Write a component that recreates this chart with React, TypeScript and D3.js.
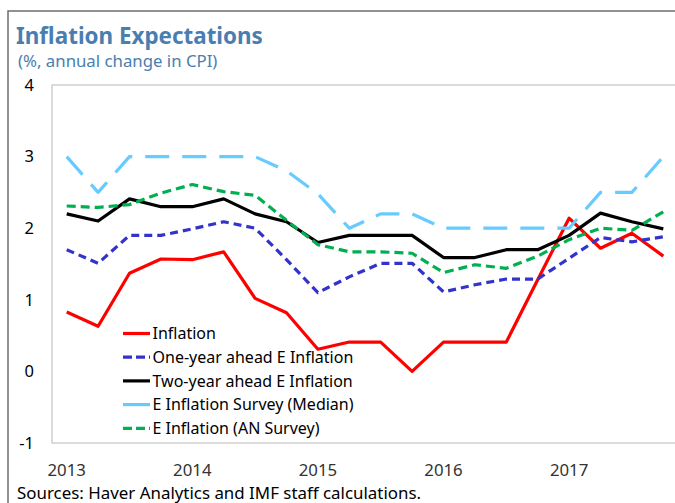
import { scaleLinear, line } from 'd3'

// Quarterly series, 2013Q1 – 2017Q4
const quarters = [
  '2013Q1', '2013Q2', '2013Q3', '2013Q4',
  '2014Q1', '2014Q2', '2014Q3', '2014Q4',
  '2015Q1', '2015Q2', '2015Q3', '2015Q4',
  '2016Q1', '2016Q2', '2016Q3', '2016Q4',
  '2017Q1', '2017Q2', '2017Q3', '2017Q4',
]
const inflation = [0.83, 0.63, 1.37, 1.57, 1.56, 1.67, 1.02, 0.82, 0.31, 0.41, 0.41, 0.0, 0.41, 0.41, 0.41, 1.28, 2.14, 1.72, 1.93, 1.61]
const oneYear = [1.7, 1.51, 1.9, 1.9, 1.99, 2.09, 2.0, 1.56, 1.1, 1.32, 1.51, 1.51, 1.11, 1.21, 1.29, 1.29, 1.58, 1.87, 1.81, 1.88]
const twoYear = [2.2, 2.1, 2.41, 2.3, 2.3, 2.41, 2.2, 2.09, 1.8, 1.9, 1.9, 1.9, 1.59, 1.59, 1.7, 1.7, 1.9, 2.21, 2.09, 1.99]
const surveyMedian = [3.0, 2.5, 3.0, 3.0, 3.0, 3.0, 3.0, 2.8, 2.48, 2.0, 2.2, 2.2, 2.0, 2.0, 2.0, 2.0, 2.0, 2.5, 2.5, 3.0]
const anSurvey = [2.31, 2.29, 2.33, 2.49, 2.61, 2.51, 2.46, 2.11, 1.77, 1.67, 1.67, 1.65, 1.38, 1.49, 1.44, 1.61, 1.84, 2.0, 1.97, 2.23]
const yTicks = [4, 3, 2, 1, 0, -1]
const yearLabels = ['2013', '2014', '2015', '2016', '2017']

const FONT = '"Noto Sans", "Open Sans", sans-serif'
const TITLE = '#4a7eb0'

const series = [
  { name: 'Inflation', values: inflation, color: '#ff0000', dash: '' },
  { name: 'One-year ahead E Inflation', values: oneYear, color: '#3333cc', dash: '8,5' },
  { name: 'Two-year ahead E Inflation', values: twoYear, color: '#000000', dash: '' },
  { name: 'E Inflation Survey (Median)', values: surveyMedian, color: '#66ccff', dash: '24,13' },
  { name: 'E Inflation (AN Survey)', values: anSurvey, color: '#00b050', dash: '9,5' },
]

export default function App() {
  const width = 675
  const height = 503
  const plot = { left: 52, top: 85, bottom: 443 }
  const x = scaleLinear().domain([0, quarters.length - 1]).range([66.7, 663.3])
  const y = scaleLinear().domain([-1, 4]).range([plot.bottom, plot.top])
  const path = line<number>()
    .x((_, i) => x(i))
    .y((d) => y(d))

  return (
    <svg
      width={width}
      height={height}
      style={{ position: 'absolute', left: 0, top: 0, background: '#fff' }}
      fontFamily={FONT}
    >
      {/* outer frame */}
      <path d={`M8,${height + 5}V11H${width + 5}`} fill="none" stroke="#6e6e6e" strokeWidth={1.5} />
      <text x={16} y={44} fontSize={22.4} fontWeight="bold" fill={TITLE}>
        Inflation Expectations
      </text>
      <text x={18} y={67} fontSize={16.8} fill={TITLE}>
        (%, annual change in CPI)
      </text>

      {/* plot frame */}
      <rect
        x={plot.left}
        y={plot.top}
        width={width}
        height={plot.bottom - plot.top}
        fill="none"
        stroke="#d0d0d0"
        strokeWidth={1.5}
      />
      {yTicks.map((t) => (
        <text key={t} x={34} y={y(t)} dy="0.35em" textAnchor="end" fontSize={16.5} fill="#000">
          {t}
        </text>
      ))}
      {yearLabels.map((l, k) => (
        <text key={l} x={x(k * 4)} y={476} textAnchor="middle" fontSize={16.8} fill="#333">
          {l}
        </text>
      ))}

      {series.map((s) => (
        <path
          key={s.name}
          d={path(s.values) ?? ''}
          fill="none"
          stroke={s.color}
          strokeWidth={3.2}
          strokeDasharray={s.dash || undefined}
          strokeLinejoin="round"
        />
      ))}

      {/* legend */}
      {series.map((s, i) => {
        const ly = 333.5 + i * 23.7
        return (
          <g key={s.name}>
            <line
              x1={123}
              x2={150}
              y1={ly}
              y2={ly}
              stroke={s.color}
              strokeWidth={3.2}
              strokeDasharray={s.dash === '24,13' ? undefined : s.dash ? '9,4' : undefined}
            />
            <text x={152.5} y={ly} dy="0.35em" fontSize={16} fill="#000">
              {s.name}
            </text>
          </g>
        )
      })}

      <text x={17} y={499} fontSize={16.9} fill="#000">
        Sources: Haver Analytics and IMF staff calculations.
      </text>
    </svg>
  )
}
